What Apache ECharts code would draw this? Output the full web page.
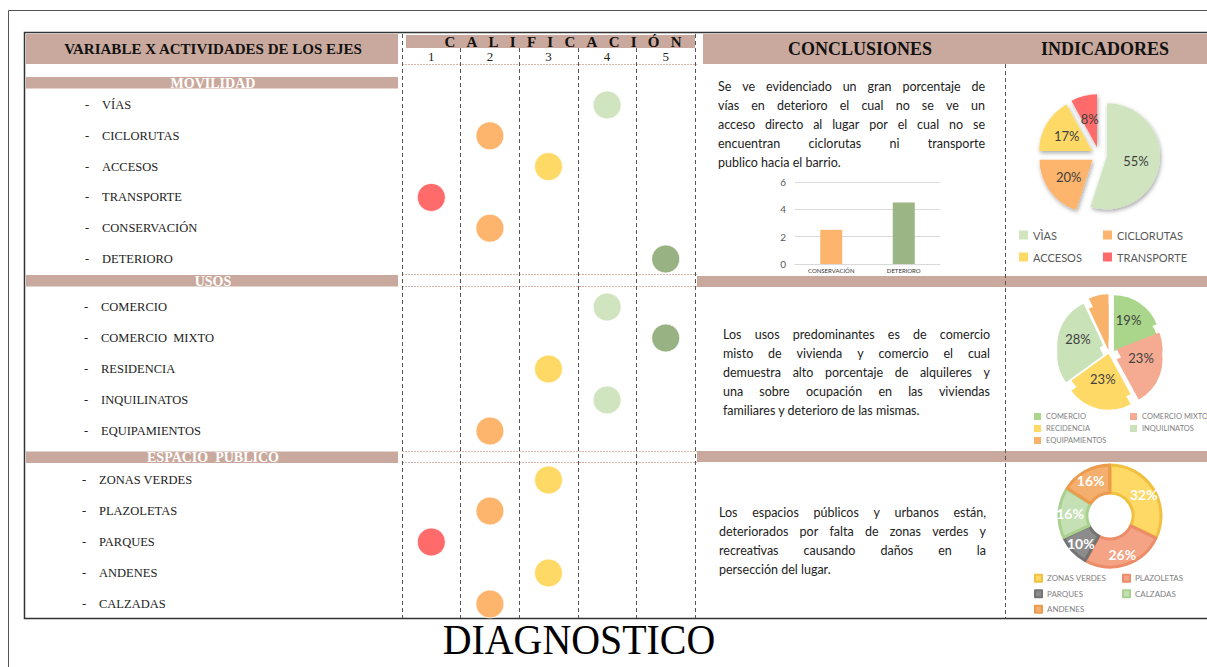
<!DOCTYPE html>
<html><head><meta charset="utf-8">
<script src="https://cdn.jsdelivr.net/npm/echarts@6/dist/echarts.min.js"></script>
<style>html,body{margin:0;padding:0;background:#fff}#c{width:1207px;height:667px}</style>
</head><body><div id="c"></div><script>
// ---------- data ----------
const ratingLabels = ['1', '2', '3', '4', '5'];
const movilidadVars = ['VÍAS', 'CICLORUTAS', 'ACCESOS', 'TRANSPORTE', 'CONSERVACIÓN', 'DETERIORO'];
const movilidadRatings = [4, 2, 3, 1, 2, 5];
const usosVars = ['COMERCIO', 'COMERCIO\u00a0\u00a0MIXTO', 'RESIDENCIA', 'INQUILINATOS', 'EQUIPAMIENTOS'];
const usosRatings = [4, 5, 3, 4, 2];
const espacioVars = ['ZONAS VERDES', 'PLAZOLETAS', 'PARQUES', 'ANDENES', 'CALZADAS'];
const espacioRatings = [3, 2, 1, 3, 2];
const barCategories = ['CONSERVACIÓN', 'DETERIORO'];
const barValues = [2.5, 4.5];
const pie1Names = ['VÌAS', 'CICLORUTAS', 'ACCESOS', 'TRANSPORTE'];
const pie1Values = [55, 20, 17, 8];
const pie2Names = ['COMERCIO', 'COMERCIO MIXTO', 'RECIDENCIA', 'INQUILINATOS', 'EQUIPAMIENTOS'];
const pie2Values = [19, 23, 23, 28, 7];
const pie3Names = ['ZONAS VERDES', 'PLAZOLETAS', 'PARQUES', 'CALZADAS', 'ANDENES'];
const pie3Values = [32, 26, 10, 16, 16];
const conclusion1 = ['Se ve evidenciado un gran porcentaje de', 'vías en deterioro el cual no se ve un', 'acceso directo al lugar por el cual no se', 'encuentran ciclorutas ni transporte', 'publico hacia el barrio.'];
const conclusion2 = ['Los usos predominantes es de comercio', 'misto de vivienda y comercio el cual', 'demuestra  alto porcentaje de alquileres y', 'una sobre ocupación en las viviendas', 'familiares y deterioro de las mismas.'];
const conclusion3 = ['Los espacios públicos y urbanos están,', 'deteriorados por falta de zonas verdes y', 'recreativas causando  daños en la', 'persección del lugar.'];

// ---------- styles ----------
const PINK = '#c9a99d';
const SERIF = '"Liberation Serif", "Times New Roman", serif';
const SANS = 'Lato, "Open Sans", sans-serif';
const TEXT_SIZE = 12.5;
const dotColors = {1: '#ff6b6b', 2: '#fdb56d', 3: '#ffd966', 4: '#cfe4bf', 5: '#98b283'};
const pie1Colors = ['#cfe4bf', '#fdb46c', '#ffd966', '#ff6b6b'];
const pie2Colors = ['#a9d68a', '#f4ab92', '#ffd966', '#c9e2b8', '#f9b26a'];
const pie2Dark = ['#6f8f55', '#6e4536', '#a88f3c', '#7f8f70', '#8a6034'];
const pie3Colors = ['#ffd966', '#f4a384', '#8c8c8c', '#c5e0b4', '#f4ae6e'];
const pie3Border = ['#f0c040', '#ec8c68', '#737373', '#a9d18e', '#ec9a4c'];

const chart = echarts.init(document.getElementById('c'), null, {renderer: 'svg'});

function sectionGrid(top, height) { return {left: 402, width: 293, top: top, height: height}; }
function dotData(ratings) {
  return ratings.map((r, i) => ({value: [r - 1, i], itemStyle: {color: dotColors[r]}}));
}
function rowAxis(gridIndex, names, margin) {
  return {
    type: 'category', gridIndex: gridIndex, data: names, inverse: true,
    axisLine: {show: false}, axisTick: {show: false}, splitLine: {show: false},
    axisLabel: {
      interval: 0, align: 'left', margin: margin,
      formatter: v => '{d|-}{t|' + v + '}',
      rich: {d: {width: 17, fontFamily: SERIF, fontSize: 12.5, color: '#222'},
             t: {fontFamily: SERIF, fontSize: 12.5, color: '#222'}}
    }
  };
}
function hiddenX(gridIndex) {
  return {type: 'category', gridIndex: gridIndex, data: ratingLabels, show: false};
}

const graphics = [];
graphics.push({type: 'polyline', shape: {points: [[8.5, 667], [8.5, 10.5], [1207, 10.5]]}, style: {stroke: '#555', lineWidth: 1, fill: null}});
graphics.push({type: 'polyline', shape: {points: [[1207, 32.5], [24.5, 32.5], [24.5, 618.5], [1207, 618.5]]}, style: {stroke: '#333', lineWidth: 1.5, fill: null}});
graphics.push({type: 'rect', shape: {x: 26, y: 34, width: 372, height: 30}, style: {fill: PINK}});
graphics.push({type: 'rect', shape: {x: 406, y: 35, width: 289, height: 13}, style: {fill: PINK}});
graphics.push({type: 'rect', shape: {x: 703, y: 34, width: 504, height: 30}, style: {fill: PINK}});
function txt(text, x, y, size, weight, color, family, align) {
  return {type: 'text', x: x, y: y, style: {text: text, fontSize: size, fontWeight: weight, fontFamily: family, fill: color,
    align: align || 'center', verticalAlign: 'middle', textAlign: align || 'center', textVerticalAlign: 'middle'}};
}
graphics.push(txt('VARIABLE X ACTIVIDADES DE LOS EJES', 213, 49, 15, 'bold', '#111', SERIF));
graphics.push(txt('C\u00a0\u00a0\u00a0A\u00a0\u00a0\u00a0L\u00a0\u00a0\u00a0I\u00a0\u00a0\u00a0F\u00a0\u00a0\u00a0I\u00a0\u00a0\u00a0C\u00a0\u00a0\u00a0A\u00a0\u00a0\u00a0C\u00a0\u00a0\u00a0I\u00a0\u00a0\u00a0Ó\u00a0\u00a0\u00a0N', 563, 42, 15, 'bold', '#111', SERIF));
graphics.push(txt('CONCLUSIONES', 860, 49, 18, 'bold', '#111', SERIF));
graphics.push(txt('INDICADORES', 1105, 49, 18, 'bold', '#111', SERIF));
[[77, 'MOVILIDAD'], [275, 'USOS'], [451.5, 'ESPACIO  PUBLICO']].forEach(([y, t]) => {
  graphics.push({type: 'rect', shape: {x: 26, y: y, width: 372, height: 11.5}, style: {fill: PINK}});
  graphics.push(txt(t.replace(/ /g, '\u00a0'), 213, y + 6, 14, 'bold', '#fff', SERIF));
});
[276, 451].forEach(y => {
  graphics.push({type: 'rect', shape: {x: 697, y: y, width: 510, height: 11}, style: {fill: PINK}});
});
[64.5, 274.5, 286.5, 451.5, 462.5].forEach(y => {
  graphics.push({type: 'line', shape: {x1: 402, y1: y, x2: 697, y2: y}, style: {stroke: '#d8b4a8', lineWidth: 1, lineDash: [2, 1]}});
});
[402.5, 695.5].forEach(x => {
  graphics.push({type: 'line', shape: {x1: x, y1: 34, x2: x, y2: 48}, style: {stroke: '#555', lineWidth: 1, lineDash: [4, 3]}});
});
graphics.push({type: 'line', shape: {x1: 1005.5, y1: 64, x2: 1005.5, y2: 618}, style: {stroke: '#555', lineWidth: 1, lineDash: [4, 3]}});

// justified paragraph text built from rich-text segments
const measureCtx = document.createElement('canvas').getContext('2d');
measureCtx.font = TEXT_SIZE + 'px Lato';
let gapId = 0;
function para(lines, x, y, target) {
  lines.forEach((l, i) => {
    const words = l.split(' ').filter(w => w.length);
    const last = i === lines.length - 1;
    const rich = {w: {fontSize: TEXT_SIZE, fontFamily: SANS, fill: '#222', color: '#222'}};
    let text;
    if (last || words.length < 2) {
      text = '{w|' + words.join(' ') + '}';
    } else {
      const wordsW = words.reduce((s, w) => s + measureCtx.measureText(w).width, 0);
      const gap = (target - wordsW) / (words.length - 1);
      const name = 'g' + (gapId++);
      rich[name] = {width: gap, fontSize: TEXT_SIZE, fontFamily: SANS};
      text = words.map(w => '{w|' + w + '}').join('{' + name + '|\u00a0}');
    }
    graphics.push({type: 'text', x: x, y: y + i * 19, style: {text: text, rich: rich, fontSize: TEXT_SIZE, fontFamily: SANS, fill: '#222',
      align: 'left', verticalAlign: 'middle', textAlign: 'left', textVerticalAlign: 'middle'}});
  });
}
para(conclusion1, 718, 86, 267);
para(conclusion2, 723, 334, 267);
para(conclusion3, 719, 512, 267);
graphics.push({type: 'text', x: 579, y: 640, scaleX: 0.95, style: {text: 'DIAGNOSTICO', fontSize: 42, fontFamily: SERIF, fill: '#000',
  align: 'center', verticalAlign: 'middle', textAlign: 'center', textVerticalAlign: 'middle'}});

function pieData(names, values) {
  return names.map((n, i) => ({name: n, value: values[i], selected: true}));
}

const option = {
  backgroundColor: '#fff',
  animation: false,
  graphic: {elements: graphics},
  grid: [
    {left: 402, width: 293, top: 48, height: 570},
    sectionGrid(89.6, 184.8),
    sectionGrid(291.5, 155),
    sectionGrid(464.5, 155),
    {left: 795, width: 145, top: 182, height: 82}
  ],
  xAxis: [
    {type: 'category', gridIndex: 0, data: ratingLabels, position: 'top',
     axisLine: {show: false}, axisTick: {show: false},
     axisLabel: {inside: true, margin: 2, fontFamily: SERIF, fontSize: 13, color: '#222'},
     splitLine: {show: true, lineStyle: {color: '#555', width: 1, type: [4, 3]}}},
    hiddenX(1), hiddenX(2), hiddenX(3),
    {type: 'category', gridIndex: 4, data: barCategories,
     axisLine: {lineStyle: {color: '#d9d9d9'}}, axisTick: {show: false},
     axisLabel: {interval: 0, fontSize: 6, color: '#333', fontFamily: SANS, margin: 3}}
  ],
  yAxis: [
    {type: 'value', gridIndex: 0, show: false, min: 0, max: 1},
    rowAxis(1, movilidadVars, 317),
    rowAxis(2, usosVars, 318),
    rowAxis(3, espacioVars, 320),
    {type: 'value', gridIndex: 4, min: 0, max: 6, interval: 2,
     axisLine: {show: false}, axisTick: {show: false},
     axisLabel: {fontSize: 10, color: '#595959', fontFamily: SANS, margin: 9},
     splitLine: {lineStyle: {color: '#d9d9d9'}}}
  ],
  legend: [
    {data: pie1Names, left: 1014, top: 224, width: 190, selectedMode: false, icon: 'rect', itemWidth: 9, itemHeight: 9, itemGap: 10,
     textStyle: {fontSize: 11, color: '#595959', fontFamily: SANS, width: 60, lineHeight: 12, overflow: 'none'}},
    {data: pie2Names, left: 1029, top: 407, width: 200, selectedMode: false, icon: 'rect', itemWidth: 7, itemHeight: 7, itemGap: 3,
     textStyle: {fontSize: 7.5, color: '#7f7f7f', fontFamily: SANS, width: 81, lineHeight: 9, overflow: 'none'}},
    {data: pie3Names, left: 1029, top: 568, width: 190, selectedMode: false, icon: 'rect', itemWidth: 7, itemHeight: 7, itemGap: 5,
     textStyle: {fontSize: 8, color: '#7f7f7f', fontFamily: SANS, width: 70, lineHeight: 10.5, overflow: 'none'}}
  ],
  series: [
    {type: 'scatter', xAxisIndex: 0, yAxisIndex: 0, data: []},
    {type: 'scatter', xAxisIndex: 1, yAxisIndex: 1, symbolSize: 28, data: dotData(movilidadRatings),
     itemStyle: {opacity: 1, borderColor: 'rgba(255,255,255,0.7)', borderWidth: 1}},
    {type: 'scatter', xAxisIndex: 2, yAxisIndex: 2, symbolSize: 28, data: dotData(usosRatings),
     itemStyle: {opacity: 1, borderColor: 'rgba(255,255,255,0.7)', borderWidth: 1}},
    {type: 'scatter', xAxisIndex: 3, yAxisIndex: 3, symbolSize: 28, data: dotData(espacioRatings),
     itemStyle: {opacity: 1, borderColor: 'rgba(255,255,255,0.7)', borderWidth: 1}},
    {type: 'bar', xAxisIndex: 4, yAxisIndex: 4, barWidth: 22,
     data: barValues.map((v, i) => ({value: v, itemStyle: {color: ['#fdb46c', '#9bb585'][i]}}))},
    {type: 'pie', name: 'movilidad', center: [1099, 155], radius: 53, startAngle: 90, clockwise: true,
     selectedMode: 'multiple', selectedOffset: 8, color: pie1Colors, data: pieData(pie1Names, pie1Values),
     label: {position: 'inside', formatter: '{c}%', fontSize: 13, color: '#404040', fontFamily: SANS},
     labelLine: {show: false},
     itemStyle: {shadowBlur: 4, shadowColor: 'rgba(0,0,0,0.35)', shadowOffsetX: 1, shadowOffsetY: 2}},
    {type: 'pie', name: 'usos', z: 3, center: [1110, 347], radius: 46, startAngle: 90, clockwise: true,
     selectedMode: 'multiple', selectedOffset: 7, color: pie2Colors, data: pieData(pie2Names, pie2Values),
     avoidLabelOverlap: false, minShowLabelAngle: 0,
     label: {position: 'inside', formatter: '{c}%', fontSize: 13, color: '#404040', fontFamily: SANS},
     labelLine: {show: false}},
    {type: 'pie', name: 'usos-depth', z: 2, silent: true, center: [1110, 357], radius: 46, startAngle: 90, clockwise: true,
     selectedMode: 'multiple', selectedOffset: 7, color: pie2Dark, data: pieData(pie2Names, pie2Values),
     label: {show: false}, labelLine: {show: false}},
    {type: 'pie', name: 'espacio', center: [1110, 516], radius: [23, 51], startAngle: 90, clockwise: true, padAngle: 1,
     avoidLabelOverlap: false,
     data: pie3Names.map((n, i) => ({name: n, value: pie3Values[i], itemStyle: {color: pie3Colors[i], borderColor: pie3Border[i], borderWidth: 3}})),
     label: {position: 'inside', formatter: '{c}%', fontSize: 14, fontWeight: 'bold', color: '#fff', fontFamily: SANS},
     labelLine: {show: false}}
  ]
};
chart.setOption(option);
</script></body></html>
